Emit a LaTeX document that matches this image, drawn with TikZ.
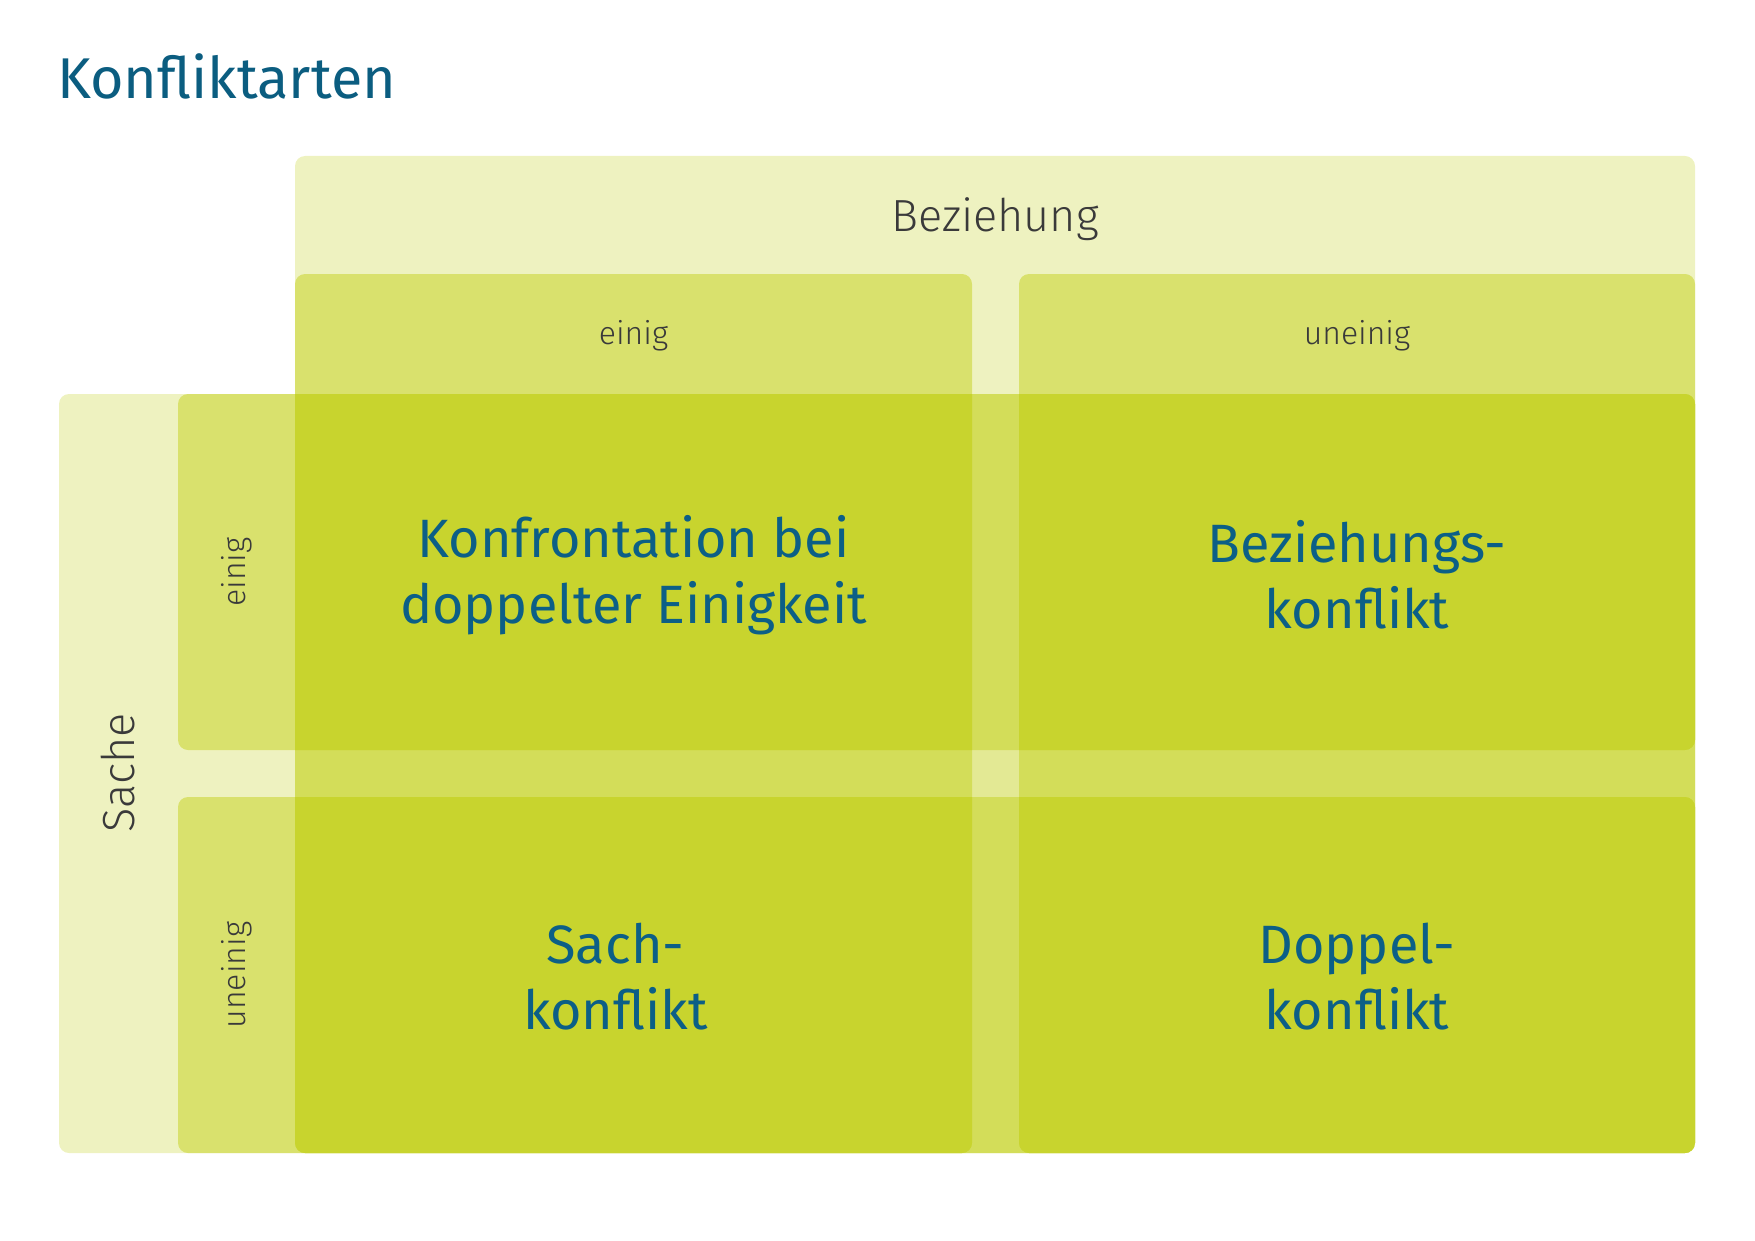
\documentclass[tikz,border=0pt]{standalone}
\usepackage{fontspec}
\setmainfont{Fira Sans}
\newfontfamily\lightfont{Fira Sans}[UprightFont={* Light}]
\definecolor{basegreen}{HTML}{C8D42E}
\definecolor{titleblue}{HTML}{0B5D80}
\definecolor{cellblue}{HTML}{0C5F86}
\definecolor{labelgray}{HTML}{3A3A3A}
\tikzset{
  layerlight/.style={fill=basegreen, fill opacity=0.30, draw=none, rounded corners=10pt},
  layermid/.style={fill=basegreen, fill opacity=0.57, draw=none, rounded corners=10pt},
  celltext/.style={font=\fontsize{54}{66}\selectfont, text=cellblue, align=center, inner sep=0pt},
  biglabel/.style={font=\lightfont\fontsize{45}{54}\selectfont, text=labelgray, inner sep=0pt},
  smalllabel/.style={font=\lightfont\fontsize{32}{40}\selectfont, text=labelgray, inner sep=0pt},
  titletext/.style={font=\fontsize{57.5}{68}\selectfont, text=titleblue, inner sep=0pt, anchor=base west}
}
\begin{document}
\begin{tikzpicture}[x=1pt, y=-1pt]
\useasboundingbox (0,0) rectangle (1755,1241);
% layer coordinates
\coordinate (bezNW) at (295,156);  \coordinate (bezSE) at (1695,1153);
\coordinate (sacNW) at (59,394);   \coordinate (sacSE) at (1695,1153);
\coordinate (caNW) at (295,274);   \coordinate (caSE) at (972,1153);
\coordinate (cbNW) at (1019,274);  \coordinate (cbSE) at (1695,1153);
\coordinate (raNW) at (178,394);   \coordinate (raSE) at (1695,750);
\coordinate (rbNW) at (178,797);   \coordinate (rbSE) at (1695,1153);
% light layers
\fill[layerlight] (bezNW) rectangle (bezSE);
\fill[layerlight] (sacNW) rectangle (sacSE);
% column and row layers
\fill[layermid] (caNW) rectangle (caSE);
\fill[layermid] (cbNW) rectangle (cbSE);
\fill[layermid] (raNW) rectangle (raSE);
\fill[layermid] (rbNW) rectangle (rbSE);
% cells (intersections)
\foreach \c in {ca,cb}{
  \foreach \r in {ra,rb}{
    \begin{scope}
      \clip[rounded corners=10pt] (\r NW) rectangle (\r SE);
      \fill[basegreen, rounded corners=10pt] (\c NW) rectangle (\c SE);
    \end{scope}
  }
}
% title
\node[titletext] (title) at (57,99) {Konfliktarten};
% headers
\node[biglabel] (bez) at (995,219) {Beziehung};
\node[smalllabel] (colA) at (633.5,336) {einig};
\node[smalllabel] (colB) at (1357,336) {uneinig};
\node[biglabel, rotate=90] (sache) at (118,773) {Sache};
\node[smalllabel, rotate=90] (rowA) at (237,572) {einig};
\node[smalllabel, rotate=90] (rowB) at (237,975) {uneinig};
% cell texts
\node[celltext] (c11) at (633.5,575) {Konfrontation bei\\doppelter Einigkeit};
\node[celltext] (c12) at (1357,575) {Beziehungs-\\konflikt};
\node[celltext] (c21) at (615.5,977) {Sach-\\konflikt};
\node[celltext] (c22) at (1357,977) {Doppel-\\konflikt};
\end{tikzpicture}
\end{document}
